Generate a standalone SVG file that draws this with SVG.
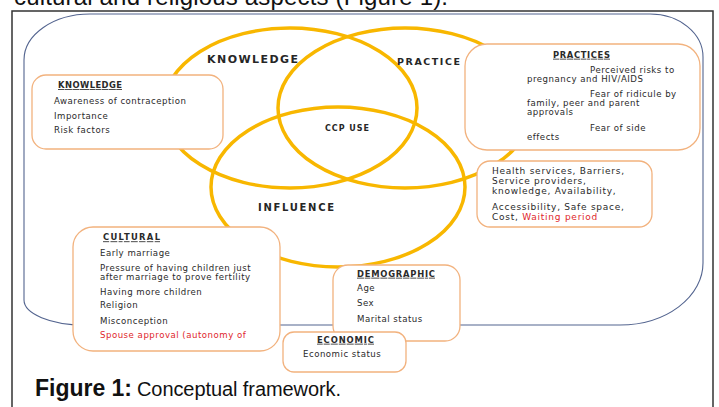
<svg xmlns="http://www.w3.org/2000/svg" width="719" height="407" viewBox="0 0 719 407">
<style>
.ell{fill:none;stroke:#f8b700;stroke-width:3.5}
.box{fill:#fff;stroke:#f2b27e;stroke-width:1.3}
.t{font-family:"DejaVu Sans",Verdana,sans-serif;font-size:8.6px;letter-spacing:0.5px;fill:#2a2a2a}
.hs{font-size:9px;letter-spacing:0.75px}
.h{font-family:"DejaVu Sans",Verdana,sans-serif;font-size:8.4px;font-weight:bold;fill:#2a2a2a;text-decoration:underline}
.red{fill:#e0262b}
.lab{font-family:"DejaVu Sans",Verdana,sans-serif;font-weight:bold;fill:#262626}
.cap{font-family:"Liberation Sans",Arial,sans-serif;fill:#111}
</style>
<rect width="719" height="407" fill="#fff"/>
<text class="cap" x="14" y="5" font-size="24" textLength="434">cultural and religious aspects (Figure 1).</text>
<path d="M12 407 V11 H713 V407" fill="none" stroke="#333" stroke-width="1.5"/>
<path id="frame" d="M90 14 H650 A53 43 0 0 1 703 57 V263 A83 62 0 0 1 620 325 H84 A60 25 0 0 1 24 300 V60 A66 46 0 0 1 90 14 Z" fill="none" stroke="#53648f" stroke-width="1.1"/>
<g id="venn">
<g id="circle-knowledge"><ellipse class="ell" cx="290" cy="108" rx="127" ry="80"/><text class="lab" x="207" y="63" font-size="11" textLength="91">KNOWLEDGE</text></g>
<g id="circle-practice"><ellipse class="ell" cx="405" cy="108" rx="127" ry="80"/><text class="lab" x="397" y="64.5" font-size="9.5" textLength="63">PRACTICE</text></g>
<g id="circle-influence"><ellipse class="ell" cx="338" cy="187" rx="127" ry="80"/><text class="lab" x="258" y="210.5" font-size="10" textLength="76">INFLUENCE</text></g>
<g id="ccp-use"><text class="lab" x="325" y="130.5" font-size="8" textLength="44">CCP USE</text></g>
</g>
<g id="connectors"/>
<g id="knowledge-box">
<rect class="box" x="32" y="75" width="191" height="74" rx="14"/>
<text class="h" x="58" y="88" textLength="64">KNOWLEDGE</text>
<text class="t" x="54" y="104">Awareness of contraception</text>
<text class="t" x="54" y="119">Importance</text>
<text class="t" x="54" y="133">Risk factors</text>
</g>
<g id="practices-box">
<rect class="box" x="465" y="44" width="235" height="106" rx="22"/>
<text class="h" x="553" y="57.7" textLength="57">PRACTICES</text>
<text class="t" x="590" y="72.5">Perceived risks to</text>
<text class="t" x="527" y="82.2">pregnancy and HIV/AIDS</text>
<text class="t" x="590" y="96.7">Fear of ridicule by</text>
<text class="t" x="527" y="105.9">family, peer and parent</text>
<text class="t" x="527" y="115.3">approvals</text>
<text class="t" x="590" y="131">Fear of side</text>
<text class="t" x="527" y="140.2">effects</text>
</g>
<g id="health-box">
<rect class="box" x="477" y="161" width="175" height="66" rx="13"/>
<text class="t hs" x="492" y="174.3">Health services, Barriers,</text>
<text class="t hs" x="492" y="183.5">Service providers,</text>
<text class="t hs" x="492" y="194">knowledge, Availability,</text>
<text class="t hs" x="492" y="210.3">Accessibility, Safe space,</text>
<text class="t hs" x="492" y="219.5">Cost, <tspan class="red">Waiting period</tspan></text>
</g>
<g id="cultural-box">
<rect class="box" x="73" y="227" width="207" height="124" rx="20"/>
<text class="h" x="103" y="240.3" textLength="57">CULTURAL</text>
<text class="t" x="100" y="255.7">Early marriage</text>
<text class="t" x="100" y="270.5">Pressure of having children just</text>
<text class="t" x="100" y="280">after marriage to prove fertility</text>
<text class="t" x="100" y="295">Having more children</text>
<text class="t" x="100" y="308.3">Religion</text>
<text class="t" x="100" y="324.3">Misconception</text>
<text class="t red" x="100" y="338.3">Spouse approval (autonomy of</text>
</g>
<g id="demographic-box">
<rect class="box" x="333" y="265" width="127" height="76" rx="15"/>
<text class="h" x="357" y="276.7" textLength="78">DEMOGRAPHIC</text>
<text class="t" x="357" y="291.3">Age</text>
<text class="t" x="357" y="306">Sex</text>
<text class="t" x="357" y="321.7">Marital status</text>
</g>
<g id="economic-box">
<rect class="box" x="283" y="332" width="123" height="40" rx="11"/>
<text class="h" x="317" y="342.7" textLength="57">ECONOMIC</text>
<text class="t" x="303" y="356.7">Economic status</text>
</g>
<text class="cap" x="35" y="396" font-size="23" font-weight="bold" textLength="97">Figure 1:</text>
<text class="cap" x="137" y="396" font-size="20" textLength="204">Conceptual framework.</text>
</svg>
